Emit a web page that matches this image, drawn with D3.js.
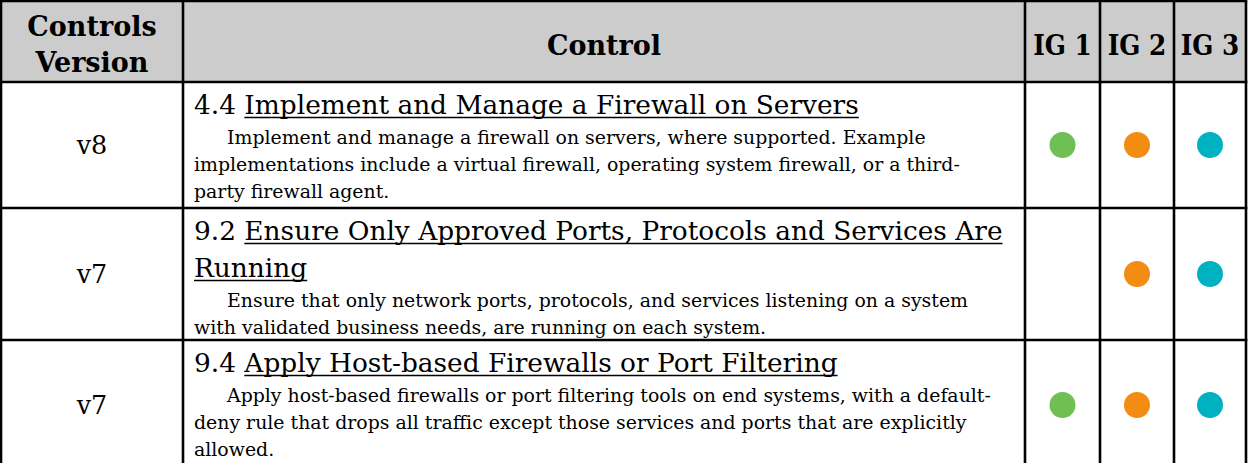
<!DOCTYPE html>
<html><head><meta charset="utf-8">
<script src="https://cdn.jsdelivr.net/npm/d3@7"></script>
<style>body{margin:0;background:#fff;overflow:hidden}</style></head>
<body><svg id="c" width="1248" height="463"></svg>
<script>
// ---- data ----
const headerLabels = [["Controls","Version"],["Control"],["IG 1"],["IG 2"],["IG 3"]];
const versions = ["v8","v7","v7"];
const controlIds = ["4.4","9.2","9.4"];
const titleLines = [
  ["Implement and Manage a Firewall on Servers"],
  ["Ensure Only Approved Ports, Protocols and Services Are","Running"],
  ["Apply Host-based Firewalls or Port Filtering"]
];
const descLines = [
  ["Implement and manage a firewall on servers, where supported. Example",
   "implementations include a virtual firewall, operating system firewall, or a third-",
   "party firewall agent."],
  ["Ensure that only network ports, protocols, and services listening on a system",
   "with validated business needs, are running on each system."],
  ["Apply host-based firewalls or port filtering tools on end systems, with a default-",
   "deny rule that drops all traffic except those services and ports that are explicitly",
   "allowed."]
];
const ig1 = [true,false,true];
const ig2 = [true,true,true];
const ig3 = [true,true,true];
const igColors = ["#70BF54","#F28C12","#00B1C1"];

// ---- layout ----
const colEdges = [1,183,1025,1100,1174,1246];
const rowEdges = [1,82,208,340,470];
const F = "'DejaVu Serif', serif";
const FC = "'DejaVu Serif Condensed', 'DejaVu Serif', serif";
const S = {title:26.4, desc:18.9, head:27, ig:27.5, ver:25.5};

const svg = d3.select("#c");
const colX = d3.scaleOrdinal().domain(d3.range(colEdges.length)).range(colEdges);
const rowY = d3.scaleOrdinal().domain(d3.range(rowEdges.length)).range(rowEdges);
const colMid = i => (colX(i)+colX(i+1))/2;
const rowMid = i => (rowY(i)+rowY(i+1))/2;

// header background
svg.append("rect").attr("x",colX(0)).attr("y",rowY(0))
  .attr("width",colX(5)-colX(0)).attr("height",rowY(1)-rowY(0)).attr("fill","#CCCCCC");

// header labels
headerLabels.forEach((lines,i)=>{
  const isIG = i>=2;
  const t = svg.append("text").attr("text-anchor","middle").attr("font-family",isIG?FC:F)
    .attr("font-stretch",isIG?"condensed":"normal")
    .attr("font-weight","bold").attr("font-size",isIG?S.ig:S.head).attr("fill","#000");
  const n = lines.length;
  lines.forEach((l,j)=>{
    t.append("tspan").attr("x",colMid(i)).attr("y", n===1 ? 55 : 36 + j*36).text(l);
  });
});

const rows = d3.range(versions.length);
// version labels
svg.selectAll("text.ver").data(rows).join("text").attr("class","ver")
  .attr("x",colMid(0)).attr("y",d=>rowMid(d+1)+9)
  .attr("text-anchor","middle").attr("font-family",F).attr("font-size",S.ver)
  .text(d=>versions[d]);

// control text
const textX = colX(1)+11, indentX = colX(1)+44;
rows.forEach(r=>{
  const top = rowY(r+1);
  const y = top + 32;
  titleLines[r].forEach((line,j)=>{
    const by = y + j*37;
    const t = svg.append("text").attr("x",textX).attr("y",by)
      .attr("font-family",F).attr("font-size",S.title).attr("fill","#000");
    let prefixLen = 0;
    if(j===0) t.append("tspan").text(controlIds[r]+" ");
    t.append("tspan").text(line);
    const node = t.node();
    const total = node.getComputedTextLength();
    if(j===0) prefixLen = node.getSubStringLength(0, controlIds[r].length+1);
    svg.append("line").attr("x1",textX+prefixLen).attr("x2",textX+total)
      .attr("y1",by+3.5).attr("y2",by+3.5).attr("stroke","#000").attr("stroke-width",1.5);
  });
  const dy0 = y + (titleLines[r].length-1)*37 + 30;
  descLines[r].forEach((line,j)=>{
    svg.append("text").attr("x", j===0 ? indentX : textX).attr("y", dy0 + j*27)
      .attr("font-family",F).attr("font-size",S.desc).attr("fill","#000").text(line);
  });
});

// IG dots
const igs = [ig1,ig2,ig3];
igs.forEach((arr,k)=>{
  svg.selectAll("circle.ig"+k).data(rows.filter(r=>arr[r])).join("circle")
    .attr("class","ig"+k).attr("cx",colMid(k+2)).attr("cy",r=>rowMid(r+1))
    .attr("r",13).attr("fill",igColors[k]);
});

// grid lines
const g = svg.append("g").attr("stroke","#000").attr("stroke-width",2.6);
colEdges.forEach((x,i)=>g.append("line").attr("x1",colX(i)).attr("x2",colX(i)).attr("y1",rowY(0)).attr("y2",463));
rowEdges.slice(0,4).forEach((y,i)=>g.append("line").attr("x1",colX(0)-1.3).attr("x2",colX(5)+1.3).attr("y1",rowY(i)).attr("y2",rowY(i)));
</script></body></html>
